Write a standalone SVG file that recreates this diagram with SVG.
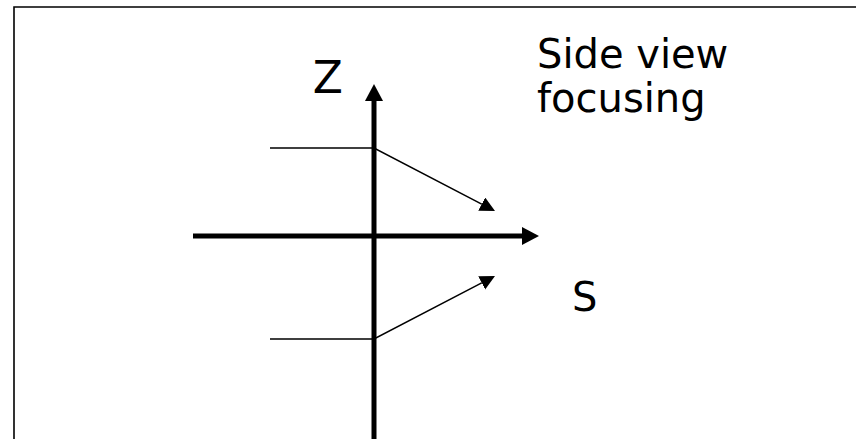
<svg xmlns="http://www.w3.org/2000/svg" width="856" height="439" viewBox="0 0 856 439">
<defs>
<style>
.lbl{font-family:"DejaVu Sans","Verdana",sans-serif;fill:#000}
.axis{stroke:#000;stroke-width:5;fill:none}
.ray{stroke:#000;stroke-width:1.5;fill:none}
</style>
<marker id="bigHead" markerUnits="userSpaceOnUse" markerWidth="20" markerHeight="20" refX="0" refY="9" orient="auto" viewBox="0 0 20 20">
<path d="M0,0 L17,9 L0,18 Z" fill="#000"/>
</marker>
<marker id="smallHead" markerUnits="userSpaceOnUse" markerWidth="16" markerHeight="16" refX="0" refY="7.5" orient="auto" viewBox="0 0 16 16">
<path d="M0,0 L15,7.5 L0,15 Z" fill="#000"/>
</marker>
</defs>
<rect x="0" y="0" width="856" height="439" fill="#fff"/>
<path d="M14,439 L14,7 L856,7" stroke="#000" stroke-width="1.6" fill="none"/>
<g id="connectors">
<line class="axis" x1="374" y1="439" x2="374" y2="101" marker-end="url(#bigHead)"/>
<line class="axis" x1="193" y1="236" x2="522" y2="236" marker-end="url(#bigHead)"/>
<polyline class="ray" points="270,148 374,148 481.7,204.1" marker-end="url(#smallHead)"/>
<polyline class="ray" points="270,339 374,339 481.7,282.9" marker-end="url(#smallHead)"/>
</g>
<g id="label-z"><text class="lbl" x="343" y="93" font-size="44" text-anchor="end">Z</text></g>
<g id="label-s"><text class="lbl" x="572" y="311" font-size="40">S</text></g>
<g id="title"><text class="lbl" x="537" y="68" font-size="40">Side view</text><text class="lbl" x="537" y="112" font-size="40">focusing</text></g>
</svg>
